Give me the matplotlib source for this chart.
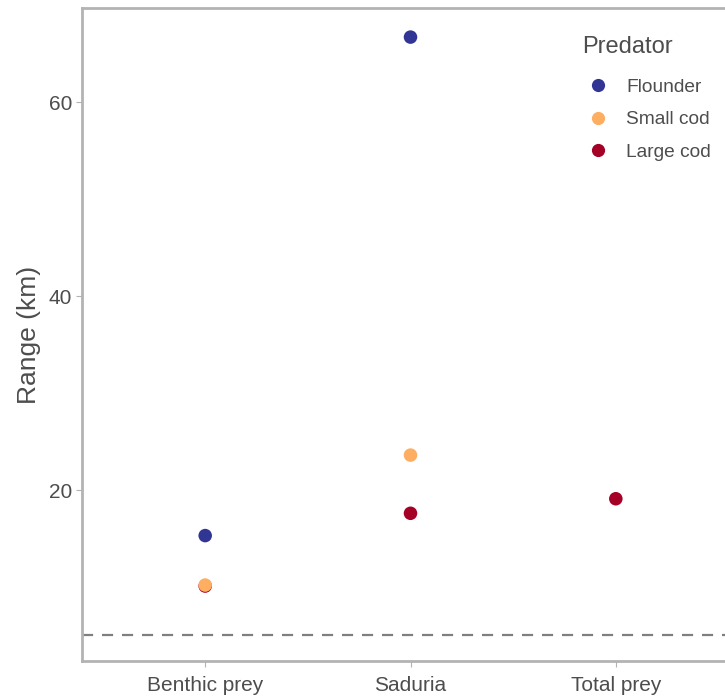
import matplotlib
matplotlib.use("Agg")
import matplotlib.pyplot as plt
from matplotlib.lines import Line2D

plt.rcParams['font.family'] = ['Liberation Sans', 'DejaVu Sans']

categories = ["Benthic prey", "Saduria", "Total prey"]
predators = ["Flounder", "Small cod", "Large cod"]
colors = {"Flounder": "#313695", "Small cod": "#FDAE61", "Large cod": "#A50026"}

# range (km) per predator and prey group; None = not estimated
flounder = [15.3, 66.7, None]
large_cod = [10.1, 17.6, 19.1]
small_cod = [10.2, 23.6, None]
threshold = 5

series = {"Flounder": flounder, "Large cod": large_cod, "Small cod": small_cod}
draw_order = ["Flounder", "Large cod", "Small cod"]

W, H = 725, 700
fig = plt.figure(figsize=(W / 100, H / 100), dpi=100)
left, right, top, bottom = 82, 739, 8, 661
ax = fig.add_axes([left / W, 1 - bottom / H, (right - left) / W, (bottom - top) / H])

xpos = {c: i + 1 for i, c in enumerate(categories)}
for name in draw_order:
    vals = series[name]
    xs = [xpos[c] for c, v in zip(categories, vals) if v is not None]
    ys = [v for v in vals if v is not None]
    ax.scatter(xs, ys, s=95, color=colors[name], edgecolors='none', zorder=3)

ax.axhline(threshold, color='#7F7F7F', lw=1.6, ls=(0, (5, 4)), zorder=2)

ax.set_xlim(0.4, 3.6)
ax.set_ylim(2.37, 69.7)
ax.set_xticks([1, 2, 3])
ax.set_xticklabels(categories)
ax.set_yticks([20, 40, 60])

for side in ['left', 'bottom', 'top', 'right']:
    ax.spines[side].set_color('#B3B3B3')
    ax.spines[side].set_linewidth(2)
ax.tick_params(colors='#B3B3B3', labelcolor='#4D4D4D', labelsize=15, length=4, width=0.8)
ax.tick_params(axis='x', pad=7)
ax.tick_params(axis='y', pad=3)
ax.set_ylabel("Range (km)", fontsize=19, color='#4D4D4D', labelpad=6)

handles = [Line2D([], [], marker='o', ls='none', markersize=9.5, markerfacecolor=colors[p],
                  markeredgecolor='none', label=p) for p in predators]
leg = ax.legend(handles=handles, title="Predator", loc='upper left',
                bbox_to_anchor=(582 / W, 1 - 36 / H), bbox_transform=fig.transFigure,
                frameon=False, fontsize=13.8, title_fontsize=17, labelspacing=0.8,
                handletextpad=0.6, handlelength=1.7, borderaxespad=0, borderpad=0)
leg._legend_box.align = "left"
leg._legend_box.sep = 14.5
for t in leg.get_texts():
    t.set_color('#4D4D4D')
leg.get_title().set_color('#4D4D4D')

fig.savefig("out.png", dpi=100)
